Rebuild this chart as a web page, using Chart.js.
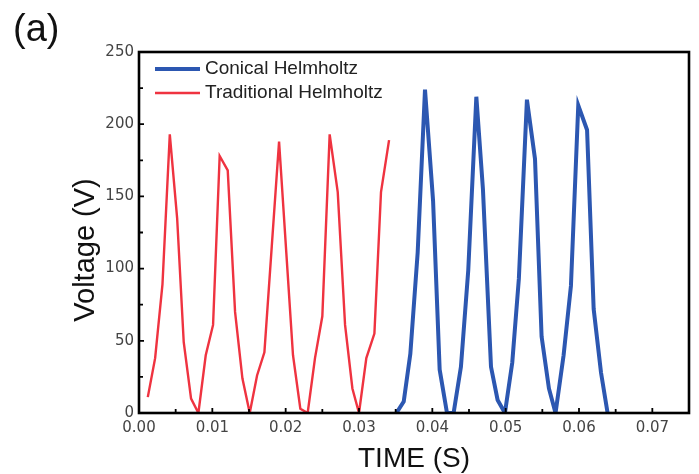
<!DOCTYPE html>
<html>
<head>
<meta charset="utf-8">
<script src="https://cdn.jsdelivr.net/npm/chart.js@4.4.1/dist/chart.umd.min.js"></script>
<style>
  html, body { margin: 0; padding: 0; background: #fff; }
  canvas { display: block; }
</style>
</head>
<body>
<canvas id="voltChart" width="699" height="474"></canvas>
<script>
// red trace, traditional Helmholtz
const tradTime = [0.0012, 0.0022, 0.0032, 0.0042, 0.0052, 0.0061, 0.0071, 0.0081, 0.0091, 0.0101,
  0.0110, 0.0121, 0.0131, 0.0141, 0.0151, 0.0161, 0.0171, 0.0181, 0.0191, 0.0201,
  0.0210, 0.0220, 0.0230, 0.0240, 0.0250, 0.0260, 0.0271, 0.0281, 0.0291, 0.0300,
  0.0310, 0.0321, 0.0330, 0.0341];
const tradVolt = [11, 38, 89, 193, 135, 49, 10, 0, 40, 61,
  178, 168, 70, 24, 0, 26, 42, 115, 188, 110,
  40, 3, 0, 38, 67, 193, 153, 61, 17, 0,
  38, 55, 153, 189];

// blue trace, conical Helmholtz
const conTime = [0.0351, 0.0361, 0.0370, 0.0380, 0.0390, 0.0401, 0.0410, 0.0420, 0.0429, 0.0439,
  0.0449, 0.0460, 0.0469, 0.0480, 0.0489, 0.0499, 0.0509, 0.0518, 0.0529, 0.0540,
  0.0549, 0.0559, 0.0568, 0.0579, 0.0589, 0.0599, 0.0611, 0.0620, 0.0630, 0.0639];
const conVolt = [0, 8, 41, 111, 224, 147, 30, 0, 0, 32,
  99, 219, 155, 32, 9, 0, 35, 93, 217, 176,
  53, 17, 0, 40, 88, 213, 196, 72, 28, 0];

const seriesNames = ["Conical Helmholtz", "Traditional Helmholtz"];
const xTicks = [0, 0.01, 0.02, 0.03, 0.04, 0.05, 0.06, 0.07];
const xMinor = [0.005, 0.015, 0.025, 0.035, 0.045, 0.055, 0.065];
const yTicks = [0, 50, 100, 150, 200, 250];
const yMinor = [25, 75, 125, 175, 225];

const BLUE = "#2c57b1";
const RED = "#ef3340";

function toPoints(xs, ys) {
  return xs.map((x, i) => ({ x: x, y: ys[i] }));
}

// frame, inward ticks, titles and legend
const decorPlugin = {
  id: "decor",
  afterDraw(chart) {
    const { ctx, chartArea: a } = chart;
    const xs = chart.scales.x, ys = chart.scales.y;
    ctx.save();
    ctx.strokeStyle = "#000";
    ctx.lineWidth = 1.8;
    ctx.beginPath();
    yTicks.forEach(v => { const p = ys.getPixelForValue(v); ctx.moveTo(a.left, p); ctx.lineTo(a.left + 5, p); });
    yMinor.forEach(v => { const p = ys.getPixelForValue(v); ctx.moveTo(a.left, p); ctx.lineTo(a.left + 4, p); });
    xTicks.forEach(v => { const p = xs.getPixelForValue(v); ctx.moveTo(p, a.bottom); ctx.lineTo(p, a.bottom - 5); });
    xMinor.forEach(v => { const p = xs.getPixelForValue(v); ctx.moveTo(p, a.bottom); ctx.lineTo(p, a.bottom - 4); });
    ctx.stroke();

    ctx.lineWidth = 2.6;
    ctx.strokeRect(a.left, a.top, a.right - a.left, a.bottom - a.top);

    // legend
    const colors = [BLUE, RED];
    const widths = [4, 2.5];
    ctx.font = "19px 'Liberation Sans', Arial, sans-serif";
    ctx.textBaseline = "middle";
    ctx.fillStyle = "#222";
    seriesNames.forEach((name, i) => {
      const y = 69 + i * 24;
      ctx.strokeStyle = colors[i];
      ctx.lineWidth = widths[i];
      ctx.beginPath();
      ctx.moveTo(155, y);
      ctx.lineTo(200, y);
      ctx.stroke();
      ctx.fillText(name, 205, y);
    });

    // axis titles and panel label
    ctx.fillStyle = "#111";
    ctx.textAlign = "center";
    ctx.font = "28px 'Liberation Sans', Arial, sans-serif";
    ctx.fillText("TIME (S)", (a.left + a.right) / 2, 459);
    ctx.save();
    ctx.translate(86, 250);
    ctx.rotate(-Math.PI / 2);
    ctx.font = "29px 'Liberation Sans', Arial, sans-serif";
    ctx.fillText("Voltage (V)", 0, 0);
    ctx.restore();
    ctx.textAlign = "left";
    ctx.font = "38px 'Liberation Sans', Arial, sans-serif";
    ctx.fillText("(a)", 13, 31);
    ctx.restore();
  }
};

new Chart(document.getElementById("voltChart"), {
  type: "line",
  data: {
    datasets: [
      {
        label: seriesNames[0],
        data: toPoints(conTime, conVolt),
        borderColor: BLUE,
        borderWidth: 4
      },
      {
        label: seriesNames[1],
        data: toPoints(tradTime, tradVolt),
        borderColor: RED,
        borderWidth: 2.4
      }
    ]
  },
  options: {
    responsive: false,
    devicePixelRatio: 1,
    animation: false,
    elements: { point: { radius: 0 }, line: { tension: 0 } },
    layout: { padding: { top: 52, right: 10, left: 0, bottom: 0 } },
    plugins: { legend: { display: false }, tooltip: { enabled: false } },
    scales: {
      x: {
        type: "linear",
        min: 0,
        max: 0.075,
        grid: { display: false, drawTicks: false },
        border: { display: false },
        afterBuildTicks: s => { s.ticks = xTicks.map(v => ({ value: v })); },
        afterFit: s => { s.height = 61; },
        ticks: {
          padding: 6,
          color: "#444",
          font: { family: "'DejaVu Sans', sans-serif", size: 15 },
          callback: v => v.toFixed(2)
        }
      },
      y: {
        min: 0,
        max: 250,
        grid: { display: false, drawTicks: false },
        border: { display: false },
        afterBuildTicks: s => { s.ticks = yTicks.map(v => ({ value: v })); },
        afterFit: s => { s.width = 139; },
        ticks: {
          padding: 5,
          color: "#444",
          font: { family: "'DejaVu Sans', sans-serif", size: 15 }
        }
      }
    }
  },
  plugins: [decorPlugin]
});
</script>
</body>
</html>
